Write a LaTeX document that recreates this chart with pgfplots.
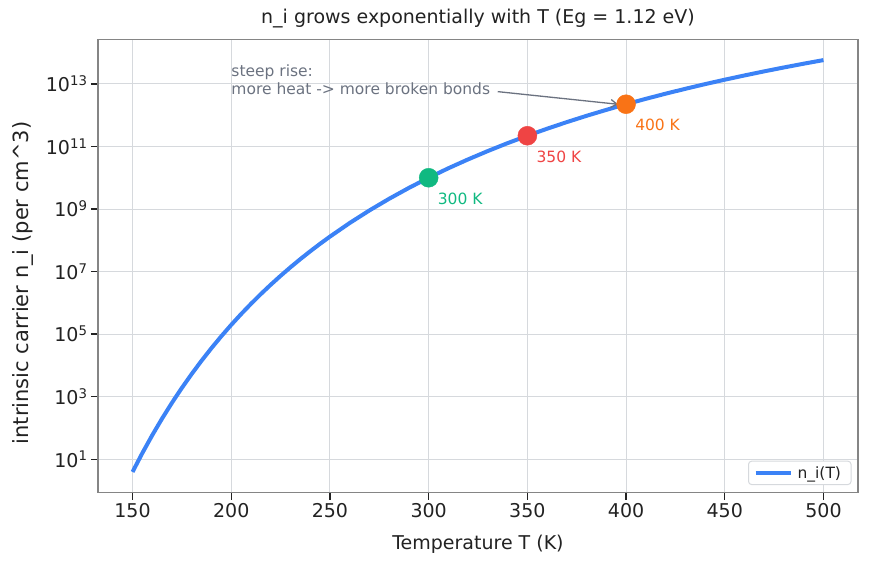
\documentclass[border=0pt]{standalone}
\usepackage{fontspec}
\setmainfont{DejaVu Sans}
\usepackage{pgfplots}
\pgfplotsset{compat=1.18}
\usetikzlibrary{arrows.meta}

\definecolor{niblue}{HTML}{3B82F6}
\definecolor{ptgreen}{HTML}{10B981}
\definecolor{ptred}{HTML}{EF4444}
\definecolor{ptorange}{HTML}{F97316}
\definecolor{notegray}{HTML}{6B7280}
\definecolor{gridgray}{HTML}{D6D9DD}
\definecolor{spinegray}{HTML}{858585}
\definecolor{labelblack}{HTML}{222222}

\newcommand{\bigfont}{\fontsize{19}{23}\selectfont}
\newcommand{\ylabfont}{\fontsize{21}{25}\selectfont}
\newcommand{\smallfont}{\fontsize{15.5}{18.5}\selectfont}

% n_i(T) for silicon, Eg = 1.12 eV, normalised to 1e10 cm^-3 at 300 K
\pgfplotstableread{
T    ni
150  3.908e0
155  1.581e1
160  5.861e1
165  2.009e2
170  6.397e2
175  1.905e3
180  5.346e3
185  1.419e4
190  3.573e4
195  8.590e4
200  1.977e5
205  4.365e5
210  9.290e5
215  1.910e6
220  3.793e6
225  7.311e6
230  1.371e7
235  2.500e7
240  4.446e7
245  7.727e7
250  1.312e8
260  3.573e8
270  9.016e8
280  2.128e9
290  4.742e9
300  1.000e10
310  2.014e10
320  3.873e10
330  7.161e10
340  1.279e11
350  2.208e11
360  3.698e11
370  6.026e11
380  9.572e11
390  1.483e12
400  2.249e12
410  3.342e12
420  4.875e12
430  6.982e12
440  9.863e12
450  1.368e13
460  1.871e13
470  2.529e13
480  3.373e13
490  4.446e13
500  5.794e13
}\nicurve

\begin{document}
\begin{tikzpicture}
\useasboundingbox (0,0) rectangle (872pt,566pt);
\begin{axis}[
  at={(98pt,73.5pt)}, anchor=south west,
  scale only axis, width=760pt, height=453pt,
  xmin=132.5, xmax=517.5,
  ymode=log, ymin=0.858, ymax=2.641e14,
  xtick={150,200,...,500},
  ytick={1e1,1e3,1e5,1e7,1e9,1e11,1e13},
  yticklabels={10\textsuperscript{1},10\textsuperscript{3},10\textsuperscript{5},10\textsuperscript{7},10\textsuperscript{9},10\textsuperscript{11},10\textsuperscript{13}},
  yminorticks=false, xminorticks=false,
  /pgf/number format/assume math mode=true,
  /pgf/number format/1000 sep={},
  tick label style={font=\bigfont, text=labelblack},
  xtick pos=bottom, ytick pos=left,
  tick align=outside, major tick length=7pt,
  tick style={color=labelblack, line width=1.2pt},
  axis line style={color=spinegray, line width=1.4pt},
  grid=major, major grid style={color=gridgray, line width=1pt},
  xlabel={Temperature T (K)},
  ylabel={intrinsic carrier n\_i (per cm\textasciicircum 3)},
  title={n\_i grows exponentially with T (Eg = 1.12 eV)},
  label style={font=\bigfont, text=labelblack},
  xlabel style={at={(axis description cs:0.5,0)}, anchor=base, yshift=-56.5pt},
  ylabel style={at={(axis description cs:-0.0921,0.4625)}, anchor=base, font=\ylabfont},
  title style={at={(axis description cs:0.5,1)}, anchor=base, yshift=9.5pt, font=\bigfont, text=labelblack},
  legend style={at={(axis description cs:1,0)}, anchor=south east, xshift=-6.5pt, yshift=7.5pt,
    draw=gridgray, line width=1pt, rounded corners=3pt, fill=white,
    font=\smallfont, text=labelblack, inner xsep=5pt, inner ysep=3pt},
  legend cell align=left,
  legend image code/.code={\draw[#1, line width=4pt] (0pt,0pt) -- (35pt,0pt);},
  legend style={nodes={inner xsep=5pt}},
]
\addplot[niblue, line width=4pt, line join=round] table[x=T, y=ni] {\nicurve};
\addlegendentry{n\_i(T)}

\addplot[only marks, mark=*, mark size=9.5pt, color=ptgreen, forget plot] coordinates {(300,1.000e10)};
\addplot[only marks, mark=*, mark size=9.5pt, color=ptred, forget plot] coordinates {(350,2.208e11)};
\addplot[only marks, mark=*, mark size=9.5pt, color=ptorange, forget plot] coordinates {(400,2.249e12)};

\node[anchor=west, inner sep=0pt, font=\smallfont, text=ptgreen, xshift=9pt, yshift=-21pt] at (axis cs:300,1.000e10) {300 K};
\node[anchor=west, inner sep=0pt, font=\smallfont, text=ptred, xshift=9pt, yshift=-21pt] at (axis cs:350,2.208e11) {350 K};
\node[anchor=west, inner sep=0pt, font=\smallfont, text=ptorange, xshift=9pt, yshift=-21pt] at (axis cs:400,2.249e12) {400 K};

\node[anchor=base west, inner sep=0pt, font=\smallfont, text=notegray] at (axis cs:200,1.675e13) {steep rise:};
\node[anchor=base west, inner sep=0pt, font=\smallfont, text=notegray] at (axis cs:200,4.61e12) {more heat -> more broken bonds};
\draw[notegray, line width=1.3pt, -{Straight Barb[length=6pt, width=8pt]}] (axis cs:335,5.68e12) -- (axis cs:395.9,2.24e12);
\end{axis}
\end{tikzpicture}
\end{document}
